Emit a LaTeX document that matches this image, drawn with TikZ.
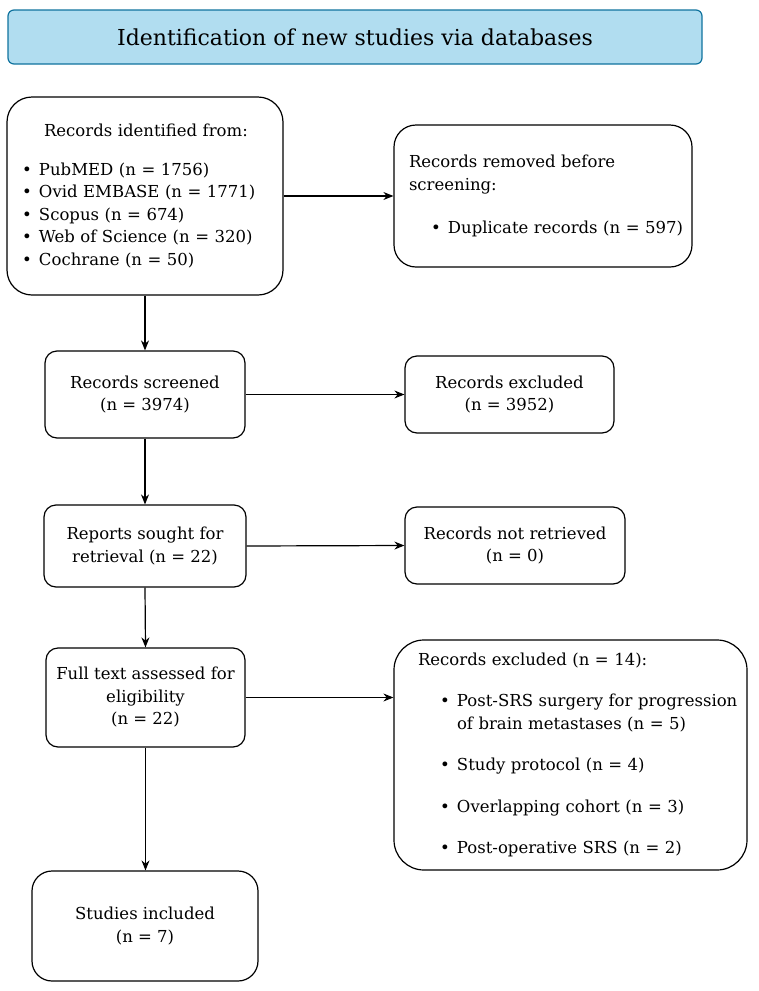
\documentclass[tikz,border=0pt]{standalone}
\usepackage{fontspec}
\setmainfont{DejaVu Serif}
\usepackage{tikz}
\usetikzlibrary{arrows.meta}
\definecolor{headfill}{HTML}{B1DDF0}
\definecolor{headline}{HTML}{10739E}
\newcommand{\bul}{\makebox[17pt][l]{\textbullet}}

\begin{document}
\begin{tikzpicture}[x=1pt, y=-1pt,
		box/.style={draw, line width=1.2pt, rounded corners=#1, inner sep=0pt,
			font=\fontsize{16.5}{22.5}\selectfont},
		box/.default=12pt,
		arr/.style={-{Stealth[length=10pt,width=8pt]}, line width=1.2pt}
	]
	\useasboundingbox (0,0) rectangle (758,991);

	% title
	\node (head) [draw=headline, fill=headfill, line width=1.2pt, rounded corners=6pt,
		minimum width=694pt, minimum height=54pt, font=\fontsize{22}{26}\selectfont]
		at (355,37) {Identification of new studies via databases};

	% identification
	\node (ident) [box=25pt, minimum width=276pt, minimum height=198pt,
		text width=246pt, align=left] at (145,196)
		{\hspace*{22pt}Records identified from:\\[16pt]
		\bul PubMED (n = 1756)\\
		\bul Ovid EMBASE (n = 1771)\\
		\bul Scopus (n = 674)\\
		\bul Web of Science (n = 320)\\
		\bul Cochrane (n = 50)};
	\node (removed) [box=22pt, minimum width=298pt, minimum height=142pt,
		text width=268pt, align=left] at (543,196)
		{Records removed before\\
		screening:\\[21pt]
		\hspace*{22pt}\bul \mbox{Duplicate records (n = 597)}};

	% screening
	\node (screened) [box, minimum width=200pt, minimum height=87pt, align=center]
		at (145,394.5) {Records screened\\(n = 3974)};
	\node (excl) [box, minimum width=209pt, minimum height=77pt, align=center]
		at (509.5,394.5) {Records excluded\\(n = 3952)};

	\node (sought) [box, minimum width=202pt, minimum height=82pt, align=center]
		at (145,546) {Reports sought for\\retrieval (n = 22)};
	\node (notret) [box, minimum width=220pt, minimum height=77pt, align=center]
		at (515,545.5) {Records not retrieved\\(n = 0)};

	\node (full) [box, minimum width=199pt, minimum height=99pt, align=center]
		at (145.5,697.5) {Full text assessed for\\eligibility\\(n = 22)};
	\node (reasons) [box=30pt, minimum width=353pt, minimum height=230pt,
		text width=305pt, align=left] at (570.5,755)
		{Records excluded (n = 14):\\[19pt]
		\hspace*{22pt}\bul \mbox{Post-SRS surgery for progression}\\
		\hspace*{39pt}of brain metastases (n = 5)\\[19pt]
		\hspace*{22pt}\bul Study protocol (n = 4)\\[19pt]
		\hspace*{22pt}\bul Overlapping cohort (n = 3)\\[19pt]
		\hspace*{22pt}\bul Post-operative SRS (n = 2)};

	% included
	\node (incl) [box=20pt, minimum width=226pt, minimum height=110pt, align=center]
		at (145,926) {Studies included\\(n = 7)};

	% arrows
	\draw[arr] (ident.east) -- (removed.west);
	\draw[arr] (ident.south) -- (screened.north);
	\draw[arr] (screened.east) -- (excl.west);
	\draw[arr] (screened.south) -- (sought.north);
	\draw[arr] (sought.east) -- (notret.west);
	\draw[arr] (sought.south) -- (full.north);
	\draw[arr] (full.east) -- (full.east -| reasons.west);
	\draw[arr] (full.south) -- (full.south |- incl.north);
\end{tikzpicture}
\end{document}
